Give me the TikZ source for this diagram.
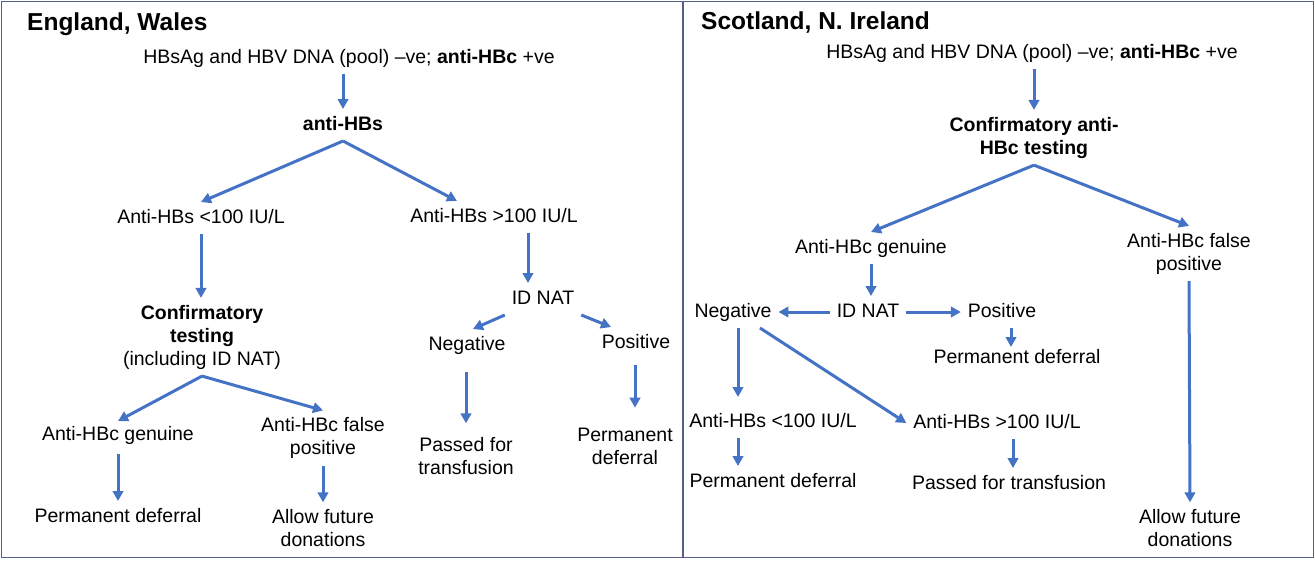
\documentclass[tikz,border=0pt]{standalone}
\usepackage{fontspec}
\setmainfont{Liberation Sans}
\usepackage{xcolor}
\usetikzlibrary{arrows.meta,calc}
\definecolor{arrowblue}{RGB}{68,114,196}
\definecolor{panelframe}{RGB}{82,96,134}
\tikzset{
  flow arrow/.style={draw=arrowblue, line width=3pt, -{Triangle[length=10pt,width=10.5pt]}},
  plain text/.style={inner sep=0pt, outer sep=7pt, font=\fontsize{19.5}{23}\selectfont, text height=14pt, text depth=4pt},
  two lines/.style={inner sep=0pt, outer sep=7pt, align=center, font=\fontsize{19.5}{23}\selectfont},
  panel title/.style={anchor=base west, inner sep=0pt, font=\fontsize{24.5}{29}\selectfont\bfseries},
}

\begin{document}
\begin{tikzpicture}[x=1pt,y=-1pt]
  \useasboundingbox (0,0) rectangle (1315,560);
  \draw[panelframe, line width=1.8pt] (1.5,1.5) rectangle (683,557.5);
  \draw[panelframe, line width=1.8pt] (683,1.5) rectangle (1313.5,557.5);

  % England, Wales
  \node[panel title] (ewtitle) at (27,30) {England, Wales};
  \node[plain text] (ewstart) at (349,58) {HBsAg and HBV DNA (pool) --ve; \textbf{anti-HBc} +ve};
  \node[plain text] (ewhbs) at (343,125) {\textbf{anti-HBs}};
  \node[plain text] (ewlow) at (201,218) {Anti-HBs <100 IU/L};
  \node[plain text] (ewhigh) at (494,217) {Anti-HBs >100 IU/L};
  \node[two lines] (ewconf) at (202,337) {\textbf{Confirmatory}\\\textbf{testing}\\(including ID NAT)};
  \node[plain text] (ewnat) at (543,299) {ID NAT};
  \node[plain text] (ewneg) at (467,345) {Negative};
  \node[plain text] (ewpos) at (636,343) {Positive};
  \node[plain text] (ewgen) at (118,435) {Anti-HBc genuine};
  \node[two lines] (ewfalse) at (323,438) {Anti-HBc false\\positive};
  \node[plain text] (ewperm) at (118,517) {Permanent deferral};
  \node[two lines] (ewallow) at (323,528) {Allow future\\donations};
  \node[two lines] (ewpass) at (466,456) {Passed for\\transfusion};
  \node[two lines] (ewdefer) at (625,446) {Permanent\\deferral};

  \draw[flow arrow] (ewstart.south -| ewhbs) -- (ewhbs.north);
  \draw[flow arrow] (ewhbs.south) -- (ewlow.north);
  \draw[flow arrow] (ewhbs.south) -- ([xshift=-37pt]ewhigh.north);
  \draw[flow arrow] (ewlow.south) -- (ewlow.south |- ewconf.north);
  \draw[flow arrow] ($(ewhigh.south)+(34,0)$) -- ($(ewnat.north)+(-15,0)$);
  \draw[flow arrow] (ewnat.south west) -- ([xshift=6pt]ewneg.north);
  \draw[flow arrow] (ewnat.south east) -- ([xshift=-25pt]ewpos.north);
  \draw[flow arrow] (ewconf.south) -- ([yshift=-2pt]ewgen.north);
  \draw[flow arrow] (ewconf.south) -- (ewfalse.north);
  \draw[flow arrow] ($(ewgen.south)+(0,3)$) -- (ewperm.north);
  \draw[flow arrow] (ewfalse.south) -- (ewallow.north);
  \draw[flow arrow] ($(ewneg.south)+(-1,11)$) -- ($(ewpass.north)+(0,-7)$);
  \draw[flow arrow] ($(ewpos.south)+(-1,6)$) -- ($(ewpos.south |- ewdefer.north)+(-1,-13)$);

  % Scotland, N. Ireland
  \node[panel title] (sntitle) at (701,29) {Scotland, N. Ireland};
  \node[plain text] (snstart) at (1032,53) {HBsAg and HBV DNA (pool) --ve; \textbf{anti-HBc} +ve};
  \node[two lines] (snconf) at (1034,137.5) {\textbf{Confirmatory anti-}\\\textbf{HBc testing}};
  \node[plain text] (sngen) at (871,248) {Anti-HBc genuine};
  \node[two lines] (snfalse) at (1189,253.5) {Anti-HBc false\\positive};
  \node[plain text] (snnat) at (868,312) {ID NAT};
  \node[plain text] (snneg) at (733,312) {Negative};
  \node[plain text] (snpos) at (1002,312) {Positive};
  \node[plain text] (sndefer) at (1017,358) {Permanent deferral};
  \node[plain text] (snlow) at (773,422) {Anti-HBs <100 IU/L};
  \node[plain text] (snhigh) at (997,423) {Anti-HBs >100 IU/L};
  \node[plain text] (snperm) at (773,482) {Permanent deferral};
  \node[plain text] (snpass) at (1009,484) {Passed for transfusion};
  \node[two lines] (snallow) at (1190,528) {Allow future\\donations};

  \draw[flow arrow] (snstart.south -| snconf) -- (snconf.north);
  \draw[flow arrow] (snconf.south) -- (sngen.north);
  \draw[flow arrow] (snconf.south) -- (snfalse.north);
  \draw[flow arrow] (sngen.south) -- (sngen.south |- snnat.north);
  \draw[flow arrow] (snnat.west) -- (snneg.east);
  \draw[flow arrow] (snnat.east) -- (snpos.west);
  \draw[flow arrow] ([xshift=9pt]snpos.south) -- ($(snpos.south |- sndefer.north)+(9,5)$);
  \draw[flow arrow] ([xshift=5pt]snneg.south) -- ($(snneg.south |- snlow.north)+(5,-9)$);
  \draw[flow arrow] ([xshift=27pt]snneg.south) -- (snhigh.west);
  \draw[flow arrow] ($(snlow.south)+(-35,0)$) -- ($(snlow.south |- snperm.north)+(-35,0)$);
  \draw[flow arrow] ($(snhigh.south)+(16,0)$) -- ($(snhigh.south |- snpass.north)+(16,0)$);
  \draw[flow arrow] (snfalse.south) -- (snallow.north);
\end{tikzpicture}
\end{document}
